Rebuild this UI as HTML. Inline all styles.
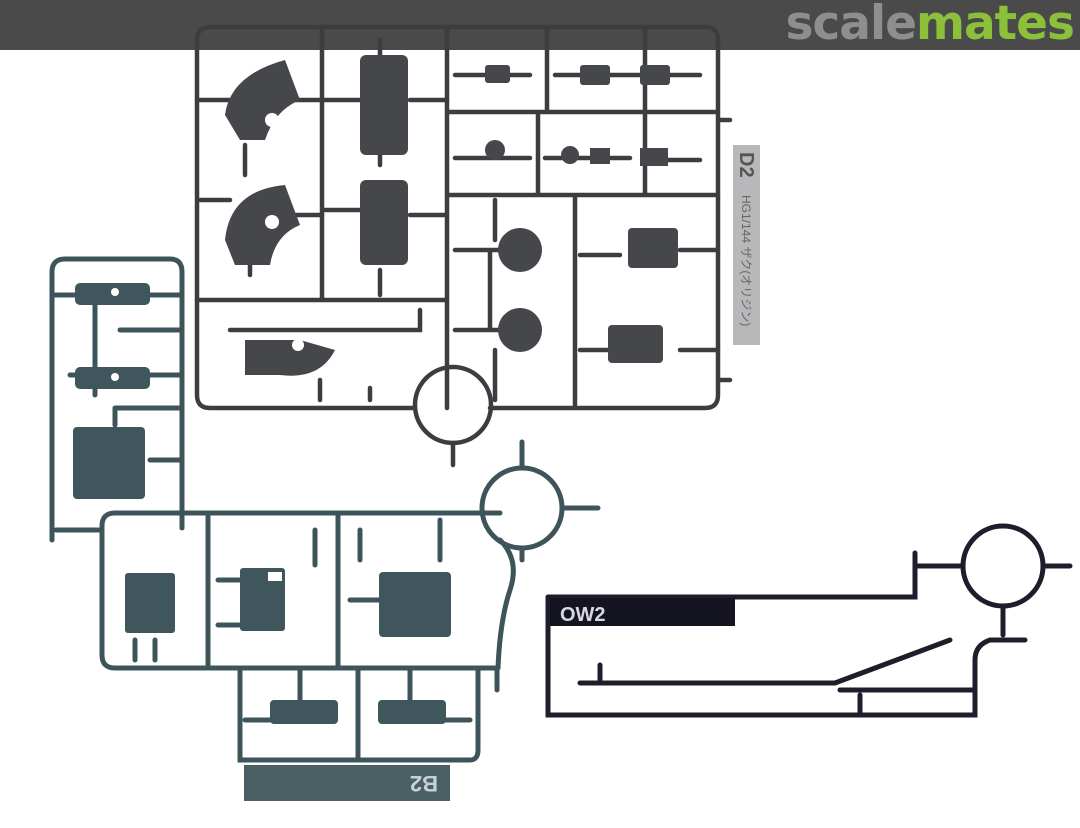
<!DOCTYPE html>
<html><head><meta charset="utf-8"><style>
html,body{margin:0;padding:0;background:#fff;width:1080px;height:828px;overflow:hidden}
.banner{position:absolute;left:0;top:0;width:1080px;height:50px;background:#4a4a4b}
.logo{position:absolute;right:6px;top:-4px;font:bold 47px "DejaVu Sans","Liberation Sans",sans-serif;letter-spacing:-1px}
.logo .a{color:#8e8e8e}.logo .b{color:#8cbf3a}
svg{position:absolute;left:0;top:0}
</style></head><body>
<div class="banner"><div class="logo"><span class="a">scale</span><span class="b">mates</span></div></div>
<svg width="1080" height="828" viewBox="0 0 1080 828">
<!-- GRAY SPRUE D2 -->
<g stroke="#3c3d41" stroke-width="4.5" fill="none" stroke-linecap="round">
<path d="M210 27 H705 Q718 27 718 40 V395 Q718 408 705 408 H490"/>
<path d="M415 408 H210 Q197 408 197 395 V40 Q197 27 210 27"/>
<path d="M322 27 V300 M447 27 V408 M197 300 H447 M547 27 V112 M645 27 V195 M447 112 H718 M447 195 H718 M575 195 V405 M538 112 V195"/>
<path d="M230 330 H420 V310 M320 380 V400 M370 388 V400"/>
<path d="M200 100 H230 M200 200 H230 M290 100 H322 M290 215 H322 M325 100 H360 M325 210 H360 M410 100 H447 M410 215 H447"/>
<path d="M380 40 V60 M380 130 V165 M380 270 V295 M245 145 V175 M250 250 V275"/>
<path d="M455 75 H530 M455 158 H530 M555 75 H640 M545 158 H630 M650 160 H700 M650 75 H700"/>
<path d="M455 250 H520 M455 330 H520 M490 250 V330 M580 255 H620 M580 350 H620 M680 250 H718 M680 350 H718 M495 200 V240 M495 350 V400"/>
<circle cx="453" cy="405" r="38"/>
<path d="M453 443 V465 M720 120 H730 M720 380 H730"/>
</g>
<g fill="#46474b">
<path d="M225 115 Q230 75 285 60 L300 100 Q275 110 265 140 H240 Z"/>
<path d="M225 240 Q230 190 285 185 L300 225 Q275 235 270 265 H235 Z"/>
<rect x="360" y="55" width="48" height="100" rx="6"/>
<rect x="360" y="180" width="48" height="85" rx="6"/>
<path d="M245 340 H300 L335 350 Q320 380 280 375 H245 Z"/>
<circle cx="520" cy="250" r="22"/><circle cx="520" cy="330" r="22"/>
<rect x="628" y="228" width="50" height="40" rx="4"/>
<rect x="608" y="325" width="55" height="38" rx="4"/>
<rect x="580" y="65" width="30" height="20" rx="3"/><rect x="640" y="65" width="30" height="20" rx="3"/>
<rect x="485" y="65" width="25" height="18" rx="3"/>
<circle cx="495" cy="150" r="10"/><circle cx="570" cy="155" r="9"/><rect x="590" y="148" width="20" height="16"/>
<rect x="640" y="148" width="28" height="18"/>
</g>
<g fill="#fff"><circle cx="272" cy="120" r="7"/><circle cx="272" cy="222" r="7"/><circle cx="298" cy="345" r="6"/></g>
<rect x="733" y="145" width="27" height="200" fill="#b8b8ba"/>
<text x="0" y="0" transform="translate(740,152) rotate(90)" font-family="Liberation Sans,sans-serif" font-size="20" font-weight="bold" fill="#555">D2</text>
<text x="0" y="0" transform="translate(742,195) rotate(90)" font-family="Liberation Sans,'Noto Sans CJK JP',sans-serif" font-size="12" fill="#666">HG1/144 ザク(オリジン)</text>

<!-- TEAL SPRUE B2 -->
<g stroke="#3d555a" stroke-width="5" fill="none" stroke-linecap="round">
<path d="M52 540 V272 Q52 259 65 259 H170 Q182 259 182 272 V528"/>
<path d="M56 530 H100 M55 295 H180 M70 375 H180 M120 330 H180 M95 305 V395 M115 408 H180 M115 408 V425 M150 460 H180"/>
<path d="M115 513 H500 M115 513 Q102 513 102 526 V655 Q102 668 115 668 H497"/>
<path d="M208 513 V668 M338 513 V668 M315 530 V565 M360 530 V560 M440 520 V560"/>
<path d="M240 668 V760 H470 Q478 760 478 750 V668 M358 668 V760 M245 720 H270 M440 720 H470"/>
<path d="M500 540 Q520 560 510 590 Q500 620 498 668 M497 668 V690"/>
<circle cx="522" cy="508" r="40"/>
<path d="M522 468 V442 M562 508 H598 M522 548 V560"/>
<path d="M135 640 V660 M155 640 V660 M300 670 V700 M410 670 V700 M218 580 H240 M218 625 H240 M350 600 H380"/>
</g>
<g fill="#3f575c">
<rect x="75" y="283" width="75" height="22" rx="5"/>
<rect x="75" y="367" width="75" height="22" rx="5"/>
<rect x="73" y="427" width="72" height="72" rx="4"/>
<rect x="125" y="573" width="50" height="60" rx="3"/>
<rect x="240" y="568" width="45" height="63" rx="3"/>
<rect x="379" y="572" width="72" height="65" rx="4"/>
<rect x="270" y="700" width="68" height="24" rx="4"/>
<rect x="378" y="700" width="68" height="24" rx="4"/>
</g>
<g fill="#fff"><rect x="268" y="572" width="14" height="9"/><circle cx="115" cy="292" r="4"/><circle cx="115" cy="377" r="4"/></g>
<rect x="244" y="765" width="206" height="36" fill="#4a6065"/>
<text x="0" y="0" transform="translate(438,776) rotate(180)" font-family="Liberation Sans,sans-serif" font-size="22" font-weight="bold" fill="#c8d2d4">B2</text>

<!-- NAVY SPRUE OW2 -->
<g stroke="#1e1d2c" stroke-width="5" fill="none" stroke-linecap="round">
<path d="M548 597 H915 V553 M548 597 V715 H975 V660 Q975 645 990 640 H1025"/>
<path d="M580 683 H835 L950 640 M840 690 H975"/>
<circle cx="1003" cy="566" r="40"/>
<path d="M963 566 H915 M1043 566 H1070 M1003 606 V635 M860 695 V712 M600 665 V680"/>
</g>
<rect x="550" y="598" width="185" height="28" fill="#141320"/>
<text x="560" y="621" font-family="Liberation Sans,sans-serif" font-size="20" font-weight="bold" fill="#d8d8e0">OW2</text>
</svg>
</body></html>
